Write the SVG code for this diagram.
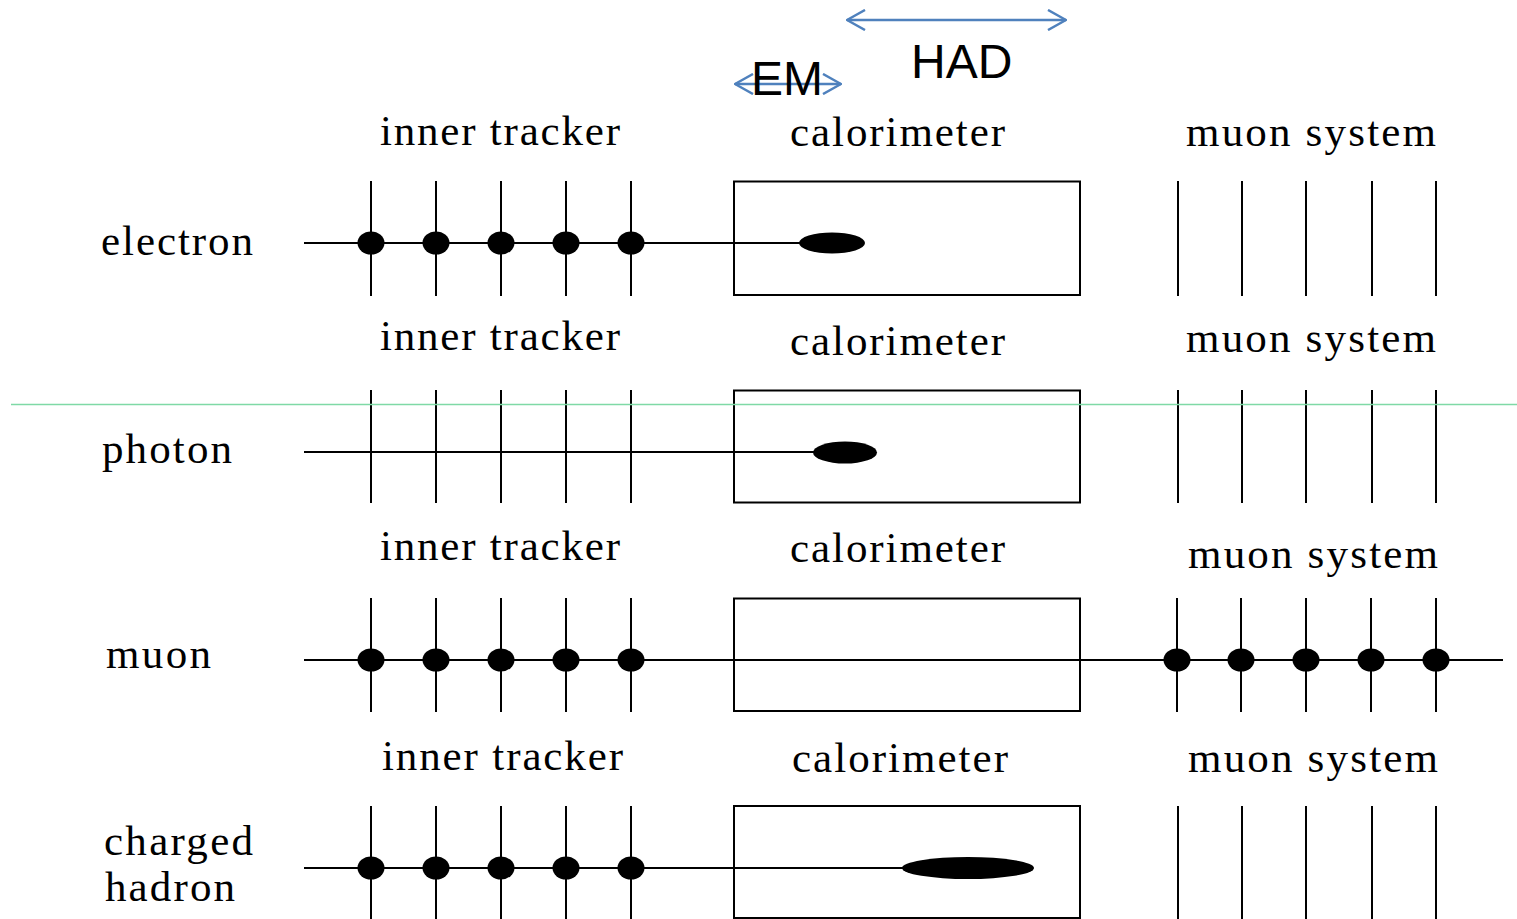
<svg xmlns="http://www.w3.org/2000/svg" width="1517" height="919" viewBox="0 0 1517 919">
  <style>
    .lbl { font-family: "Liberation Serif", "Times New Roman", serif; font-size: 43px; fill: #000; }
    .sans { font-family: "Liberation Sans", Arial, sans-serif; font-size: 48px; fill: #000; }
    .wire { stroke: #000; stroke-width: 2; fill: none; }
    .box { stroke: #000; stroke-width: 2; fill: none; }
    .trk { stroke: #000; stroke-width: 2; fill: none; }
    .hit { fill: #000; }
    .span { stroke: #4f81bd; stroke-width: 2.5; fill: none; }
  </style>
  <defs>
    <marker id="chev" viewBox="0 0 20 22" refX="19" refY="11" markerWidth="20" markerHeight="22" markerUnits="userSpaceOnUse" orient="auto-start-reverse">
      <path d="M1 1 L19 11 L1 21" stroke="#4f81bd" stroke-width="2.5" fill="none"/>
    </marker>
  </defs>
  <rect width="1517" height="919" fill="#fff"/>

  <!-- EM / HAD depth ranges -->
  <g id="ranges">
    <line class="span" x1="735" y1="84" x2="841" y2="84" marker-start="url(#chev)" marker-end="url(#chev)"/>
    <text class="sans" x="751" y="95">EM</text>
    <line class="span" x1="847" y1="20" x2="1066" y2="20" marker-start="url(#chev)" marker-end="url(#chev)"/>
    <text class="sans" x="911" y="78">HAD</text>
  </g>

  <!-- particle tracks -->
  <g id="tracks">
    <line class="trk" x1="304" y1="243" x2="805" y2="243"/>
    <line class="trk" x1="304" y1="452" x2="818" y2="452"/>
    <line class="trk" x1="304" y1="660" x2="1503" y2="660"/>
    <line class="trk" x1="304" y1="868" x2="910" y2="868"/>
  </g>

  <!-- electron -->
  <g id="electron">
    <text class="lbl" x="101" y="255" textLength="152" lengthAdjust="spacing">electron</text>
    <text class="lbl" x="380" y="145" textLength="240" lengthAdjust="spacing">inner tracker</text>
    <text class="lbl" x="790" y="146" textLength="215" lengthAdjust="spacing">calorimeter</text>
    <text class="lbl" x="1186" y="146" textLength="250" lengthAdjust="spacing">muon system</text>
    <g class="wire">
      <line x1="371" y1="181" x2="371" y2="296"/><line x1="436" y1="181" x2="436" y2="296"/>
      <line x1="501" y1="181" x2="501" y2="296"/><line x1="566" y1="181" x2="566" y2="296"/>
      <line x1="631" y1="181" x2="631" y2="296"/>
      <line x1="1178" y1="181" x2="1178" y2="296"/><line x1="1242" y1="181" x2="1242" y2="296"/>
      <line x1="1306" y1="181" x2="1306" y2="296"/><line x1="1372" y1="181" x2="1372" y2="296"/>
      <line x1="1436" y1="181" x2="1436" y2="296"/>
    </g>
    <rect class="box" x="734" y="181.5" width="346" height="113.5"/>
    <g class="hit">
      <ellipse cx="371" cy="243" rx="13.5" ry="11.5"/><ellipse cx="436" cy="243" rx="13.5" ry="11.5"/>
      <ellipse cx="501" cy="243" rx="13.5" ry="11.5"/><ellipse cx="566" cy="243" rx="13.5" ry="11.5"/>
      <ellipse cx="631" cy="243" rx="13.5" ry="11.5"/>
      <ellipse cx="832" cy="243" rx="33" ry="10.5"/>
    </g>
  </g>

  <!-- photon -->
  <g id="photon">
    <text class="lbl" x="102" y="463" textLength="130" lengthAdjust="spacing">photon</text>
    <text class="lbl" x="380" y="350" textLength="240" lengthAdjust="spacing">inner tracker</text>
    <text class="lbl" x="790" y="355" textLength="215" lengthAdjust="spacing">calorimeter</text>
    <text class="lbl" x="1186" y="352" textLength="250" lengthAdjust="spacing">muon system</text>
    <g class="wire">
      <line x1="371" y1="390" x2="371" y2="503"/><line x1="436" y1="390" x2="436" y2="503"/>
      <line x1="501" y1="390" x2="501" y2="503"/><line x1="566" y1="390" x2="566" y2="503"/>
      <line x1="631" y1="390" x2="631" y2="503"/>
      <line x1="1178" y1="390" x2="1178" y2="503"/><line x1="1242" y1="390" x2="1242" y2="503"/>
      <line x1="1306" y1="390" x2="1306" y2="503"/><line x1="1372" y1="390" x2="1372" y2="503"/>
      <line x1="1436" y1="390" x2="1436" y2="503"/>
    </g>
    <rect class="box" x="734" y="390.5" width="346" height="112"/>
    <ellipse class="hit" cx="845" cy="452.5" rx="32" ry="11"/>
  </g>

  <!-- muon -->
  <g id="muon">
    <text class="lbl" x="106" y="668" textLength="105" lengthAdjust="spacing">muon</text>
    <text class="lbl" x="380" y="560" textLength="240" lengthAdjust="spacing">inner tracker</text>
    <text class="lbl" x="790" y="562" textLength="215" lengthAdjust="spacing">calorimeter</text>
    <text class="lbl" x="1188" y="568" textLength="250" lengthAdjust="spacing">muon system</text>
    <g class="wire">
      <line x1="371" y1="598" x2="371" y2="712"/><line x1="436" y1="598" x2="436" y2="712"/>
      <line x1="501" y1="598" x2="501" y2="712"/><line x1="566" y1="598" x2="566" y2="712"/>
      <line x1="631" y1="598" x2="631" y2="712"/>
      <line x1="1177" y1="598" x2="1177" y2="712"/><line x1="1241" y1="598" x2="1241" y2="712"/>
      <line x1="1306" y1="598" x2="1306" y2="712"/><line x1="1371" y1="598" x2="1371" y2="712"/>
      <line x1="1436" y1="598" x2="1436" y2="712"/>
    </g>
    <rect class="box" x="734" y="598.5" width="346" height="112.5"/>
    <g class="hit">
      <ellipse cx="371" cy="660" rx="13.5" ry="11.5"/><ellipse cx="436" cy="660" rx="13.5" ry="11.5"/>
      <ellipse cx="501" cy="660" rx="13.5" ry="11.5"/><ellipse cx="566" cy="660" rx="13.5" ry="11.5"/>
      <ellipse cx="631" cy="660" rx="13.5" ry="11.5"/>
      <ellipse cx="1177" cy="660" rx="13.5" ry="11.5"/><ellipse cx="1241" cy="660" rx="13.5" ry="11.5"/>
      <ellipse cx="1306" cy="660" rx="13.5" ry="11.5"/><ellipse cx="1371" cy="660" rx="13.5" ry="11.5"/>
      <ellipse cx="1436" cy="660" rx="13.5" ry="11.5"/>
    </g>
  </g>

  <!-- charged hadron -->
  <g id="charged-hadron">
    <text class="lbl" x="104" y="855" textLength="149" lengthAdjust="spacing">charged</text>
    <text class="lbl" x="105" y="901" textLength="130" lengthAdjust="spacing">hadron</text>
    <text class="lbl" x="382" y="770" textLength="241" lengthAdjust="spacing">inner tracker</text>
    <text class="lbl" x="792" y="772" textLength="216" lengthAdjust="spacing">calorimeter</text>
    <text class="lbl" x="1188" y="772" textLength="250" lengthAdjust="spacing">muon system</text>
    <g class="wire">
      <line x1="371" y1="806" x2="371" y2="919"/><line x1="436" y1="806" x2="436" y2="919"/>
      <line x1="501" y1="806" x2="501" y2="919"/><line x1="566" y1="806" x2="566" y2="919"/>
      <line x1="631" y1="806" x2="631" y2="919"/>
      <line x1="1178" y1="806" x2="1178" y2="919"/><line x1="1242" y1="806" x2="1242" y2="919"/>
      <line x1="1306" y1="806" x2="1306" y2="919"/><line x1="1372" y1="806" x2="1372" y2="919"/>
      <line x1="1436" y1="806" x2="1436" y2="919"/>
    </g>
    <rect class="box" x="734" y="806" width="346" height="112"/>
    <g class="hit">
      <ellipse cx="371" cy="868" rx="13.5" ry="11.5"/><ellipse cx="436" cy="868" rx="13.5" ry="11.5"/>
      <ellipse cx="501" cy="868" rx="13.5" ry="11.5"/><ellipse cx="566" cy="868" rx="13.5" ry="11.5"/>
      <ellipse cx="631" cy="868" rx="13.5" ry="11.5"/>
      <ellipse cx="968" cy="868" rx="66" ry="11"/>
    </g>
  </g>

  <!-- guide line -->
  <line x1="11" y1="404.5" x2="1517" y2="404.5" stroke="#7fd9a6" stroke-width="1.5"/>
</svg>
